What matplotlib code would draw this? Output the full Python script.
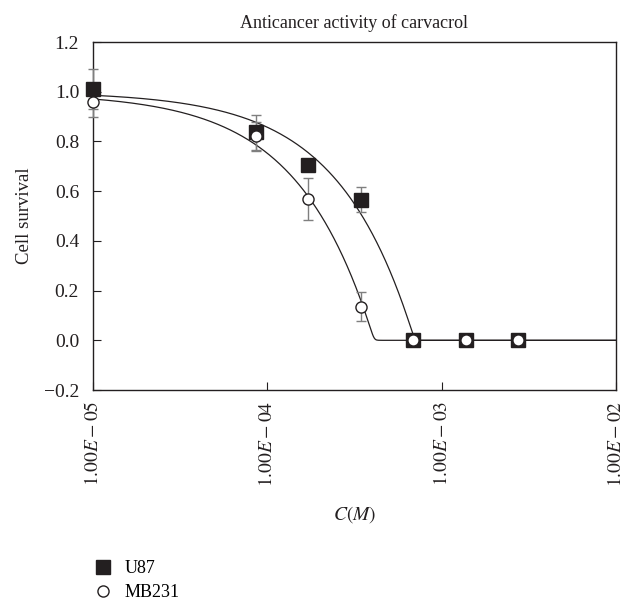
import matplotlib
import matplotlib.pyplot as plt
import numpy as np
from matplotlib.ticker import FixedLocator, NullLocator

matplotlib.use("Agg")

plt.rcParams["font.family"] = ["Liberation Serif", "DejaVu Serif"]
plt.rcParams["mathtext.fontset"] = "stix"

# measured concentrations (M)
conc = [1.0e-5, 8.6e-5, 1.72e-4, 3.44e-4, 6.88e-4, 1.375e-3, 2.75e-3]

u87 = [1.012, 0.837, 0.707, 0.566, 0.0, 0.0, 0.0]
u87_err = [0.08, 0.07, 0.02, 0.05, 0.0, 0.0, 0.0]
mb231 = [0.96, 0.82, 0.569, 0.136, 0.0, 0.0, 0.0]
mb231_err = [0.06, 0.06, 0.085, 0.06, 0.0, 0.0, 0.0]

# fitted curve parameters: top * (1 - c / c0), softly clipped at zero
u87_fit = (1.0, 7.0e-4)
mb231_fit = (0.995, 4.1e-4)
soft = 0.014

xticks = [1e-5, 1e-4, 1e-3, 1e-2]
xticklabels = [r"$1.00E-05$", r"$1.00E-04$", r"$1.00E-03$", r"$1.00E-02$"]
yticks = [-0.2, 0.0, 0.2, 0.4, 0.6, 0.8, 1.0, 1.2]


def fit_curve(c, top, c0):
    lin = top * (1 - c / c0)
    return soft * np.logaddexp(0, lin / soft)


fig = plt.figure(figsize=(6.25, 6.03), dpi=100)
ax = fig.add_axes([0.1488, 0.3532, 0.8368, 0.5771])

cc = np.logspace(-5, -2, 600)
ax.plot(cc, fit_curve(cc, *u87_fit), color="#231f20", lw=0.9, zorder=2)
ax.plot(cc, fit_curve(cc, *mb231_fit), color="#231f20", lw=0.9, zorder=2)

for vals, errs in [(u87, u87_err), (mb231, mb231_err)]:
    eb = ax.errorbar(conc, vals, yerr=errs, fmt="none", ecolor="#7f7f7f",
                     elinewidth=1.0, capsize=3.6, capthick=1.0, zorder=3)
    for art in eb.lines[1] + eb.lines[2]:
        art.set_clip_on(False)

ax.plot(conc, u87, ls="none", marker="s", ms=10.5, mfc="#231f20",
        mec="#231f20", label="U87", zorder=4, clip_on=False)
ax.plot(conc, mb231, ls="none", marker="o", ms=8, mfc="white",
        mec="#231f20", mew=1.0, label="MB231", zorder=5, clip_on=False)

ax.set_xscale("log")
ax.set_xlim(1e-5, 1e-2)
ax.set_ylim(-0.2, 1.2)
ax.xaxis.set_major_locator(FixedLocator(xticks))
ax.xaxis.set_minor_locator(NullLocator())
ax.set_xticklabels(xticklabels, rotation=90, fontsize=14)
ax.set_yticks(yticks)
ax.set_yticklabels([f"{v:.1f}".replace("-", "\u2212") for v in yticks], fontsize=14)
ax.tick_params(direction="in", length=6, width=0.8, colors="#231f20")
ax.tick_params(axis="y", pad=10)
ax.tick_params(axis="x", pad=8)
for sp in ax.spines.values():
    sp.set_linewidth(1.0)
    sp.set_color("#231f20")

ax.set_title("Anticancer activity of carvacrol", fontsize=13, pad=10, color="#231f20")
ax.set_ylabel("Cell survival", fontsize=13.5, labelpad=8, color="#231f20")
ax.set_xlabel(r"$C(M)$", fontsize=14, labelpad=12, color="#231f20")

fig.legend(loc="upper left", bbox_to_anchor=(0.142, 0.083), frameon=False,
           fontsize=13, handlelength=0.8, handletextpad=0.8, labelspacing=0.4,
           borderaxespad=0)

fig.savefig("out.png", dpi=100)
plt.close(fig)
